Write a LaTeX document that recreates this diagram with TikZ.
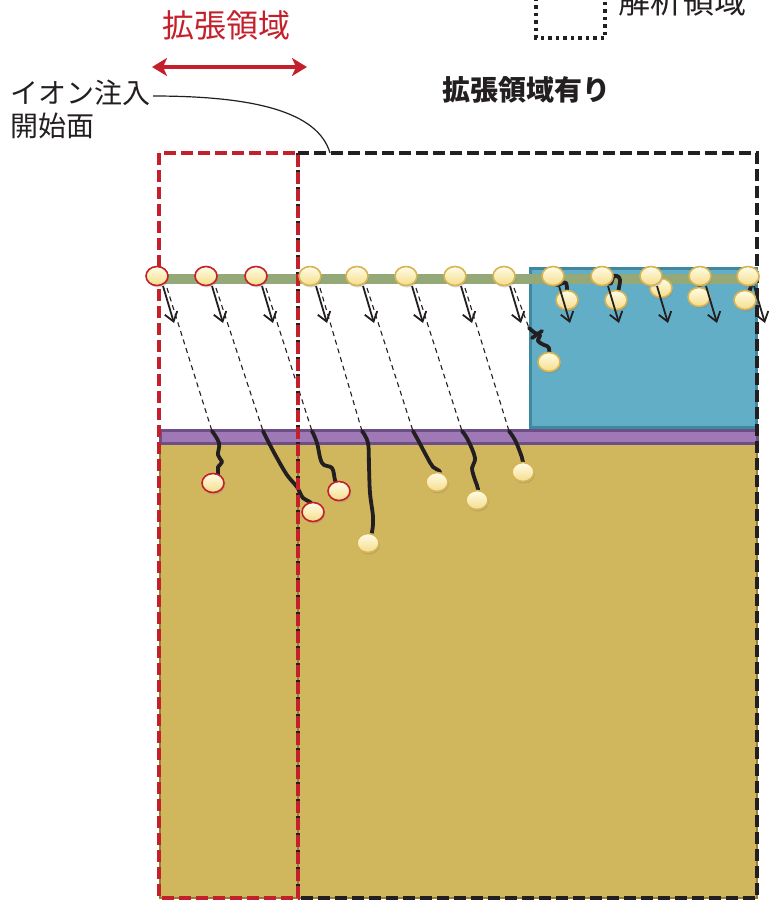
\documentclass[tikz,border=0pt]{standalone}
\usepackage{fontspec}
\newfontfamily\cjk{Noto Sans CJK JP}
\usetikzlibrary{arrows.meta,shapes.geometric,shadows}

\definecolor{gold}{HTML}{D0B75E}
\definecolor{goldedge}{HTML}{978033}
\definecolor{purplefill}{HTML}{9E79B6}
\definecolor{purpleedge}{HTML}{6D4E87}
\definecolor{bluefill}{HTML}{62AEC6}
\definecolor{blueedge}{HTML}{3E88A2}
\definecolor{greenline}{HTML}{95A878}
\definecolor{redline}{HTML}{C4202B}
\definecolor{darkline}{HTML}{231F20}
\definecolor{creamtop}{HTML}{FFFDE8}
\definecolor{creambot}{HTML}{F4DC88}
\definecolor{ringgold}{HTML}{D6B455}

\pgfdeclarelayer{base}
\pgfdeclarelayer{paths}
\pgfsetlayers{base,paths,main}

\tikzset{
  ion/.style={ellipse, minimum width=22pt, minimum height=19pt, inner sep=0pt,
    top color=creamtop, bottom color=creambot, draw=ringgold, line width=1.6pt,
    drop shadow={shadow xshift=1pt, shadow yshift=-2pt, opacity=.3}},
  ionred/.style={ion, draw=redline},
  track/.style={darkline, line width=1.1pt, dash pattern=on 5pt off 4pt},
  wig/.style={darkline, line width=3.8pt, line join=round, line cap=round},
  kick/.style={darkline, line width=1.8pt, -{Straight Barb[length=9pt,width=13pt,line width=1.8pt]}},
  regionbox/.style={line width=3.5pt, dash pattern=on 12pt off 5pt},
  lbl/.style={inner sep=0pt, text=darkline, font=\cjk\fontsize{28}{33}\selectfont}
}

\begin{document}
\begin{tikzpicture}[x=1pt,y=-1pt]
\useasboundingbox (0,0) rectangle (779,903);

% substrate, interface layer, mask block, start surface
\begin{pgfonlayer}{base}
\draw[fill=gold, draw=goldedge, line width=2pt] (160,443) rectangle (298,898);
\draw[fill=gold, draw=goldedge, line width=2pt] (298,443) rectangle (757,898);
\draw[fill=purplefill, draw=purpleedge, line width=3pt] (160,430) rectangle (757,443);
\draw[fill=bluefill, draw=blueedge, line width=3pt] (530,268) rectangle (756,427);
\draw[greenline, line width=10.5pt] (158,279) -- (757,279);
\end{pgfonlayer}

% top row of incoming ions
\foreach \x [count=\i] in {157,206,256,310,357,406,455,504,553,602,651,700,748}{
  \coordinate (tp\i) at (\x,276);
  \coordinate (ds\i) at (\x+10,288);
  \coordinate (as\i) at (\x+6,286);
  \coordinate (ah\i) at (\x+17,323);
}

% entry points into the solid
\foreach \i/\ex in {1/212,2/263,3/312,4/362,5/413,6/462,7/509}{
  \coordinate (e\i) at (\ex,431);
}
\coordinate (e8) at (529,328);

% simulation regions
\draw[regionbox, darkline] (298,153) rectangle (757,898);
\draw[regionbox, redline] (159,153) rectangle (298,898);

% stopped ions
\node[ionred] (b1) at (213,483) {};
\node[ionred] (b2) at (313,512) {};
\node[ionred] (b3) at (339,491) {};
\node[ion] (b4) at (368,543) {};
\node[ion] (b5) at (437,482) {};
\node[ion] (b6) at (477,500) {};
\node[ion] (b7) at (523,472) {};
\node[ion] (s1) at (567,300) {};
\node[ion] (s2) at (616,300) {};
\node[ion] (s3) at (661,288) {};
\node[ion] (s4) at (699,297) {};
\node[ion] (s5) at (745,300) {};
\node[ion] (s6) at (549,362) {};

% incident directions
\foreach \i in {1,...,13}{
  \draw[kick] (as\i) -- (ah\i);
}
\foreach \i in {1,2,3}{
  \node[ionred] (t\i) at (tp\i) {};
}
\foreach \i in {4,...,13}{
  \node[ion] (t\i) at (tp\i) {};
}

% straight flight, then scattered paths inside the solid
\begin{pgfonlayer}{paths}
\foreach \i in {1,...,8}{
  \draw[track] (ds\i) -- (e\i);
}
\draw[wig] plot[smooth,tension=.6] coordinates {(e1) (219,443) (218,455) (222,462) (218,467) (218,475) (b1)};
\draw[wig] plot[smooth,tension=.6] coordinates {(e2) (270,445) (277,458) (287,475) (297,487) (303,498) (311,503) (b2)};
\draw[wig] plot[smooth,tension=.6] coordinates {(e3) (317,443) (322,463) (332,468) (335,480) (b3)};
\draw[wig] plot[smooth,tension=.6] coordinates {(e4) (368,443) (369,467) (370,493) (373,517) (372,532) (b4)};
\draw[wig] plot[smooth,tension=.6] coordinates {(e5) (418,440) (427,457) (433,467) (440,472) (b5)};
\draw[wig] plot[smooth,tension=.6] coordinates {(e6) (468,440) (475,458) (472,468) (475,480) (478,489) (b6)};
\draw[wig] plot[smooth,tension=.6] coordinates {(e7) (515,440) (520,452) (523,462) (b7)};
\draw[wig] plot[smooth,tension=.6] coordinates {(e8) (535,333) (540,335) (538,341) (544,345) (549,348) (s6)};
\draw[wig] (532,338) -- (542,331);
\draw[wig] plot[smooth,tension=.6] coordinates {(t9) (557,285) (566,283) (s1)};
\draw[wig] plot[smooth,tension=.6] coordinates {(t10) (610,284) (614,276) (620,280) (s2)};
\draw[wig] (t11) -- (s3);
\draw[wig] (t12) -- (s4);
\draw[wig] plot[smooth,tension=.6] coordinates {(t13) (751,286) (s5)};
\end{pgfonlayer}

% legend
\draw[darkline, line width=3.5pt, dash pattern=on 3.5pt off 4pt] (536,-10) -- (536,38) -- (605,38) -- (605,-10);
\node[lbl, font=\cjk\fontsize{32}{36}\selectfont, anchor=base west] (legtxt) at (618,13) {解析領域};

% extension width marker
\node[inner sep=0pt, text=redline, font=\cjk\fontsize{32}{36}\selectfont] (exttitle) at (226,25) {拡張領域};
\coordinate (extL) at (152,67);
\coordinate (extR) at (307,67);
\draw[redline, line width=4pt, {Stealth[length=15pt,width=18pt,inset=4pt]}-{Stealth[length=15pt,width=18pt,inset=4pt]}] (extL) -- (extR);

\node[lbl, font=\cjk\bfseries\fontsize{28}{33}\selectfont] (case) at (526,90) {拡張領域有り};

% start surface annotation
\node[lbl, anchor=north west, align=left] (startlbl) at (10,80) {イオン注入\\開始面};
\coordinate (leadA) at (153,96);
\coordinate (leadB) at (330,153);
\draw[darkline, line width=1.2pt] (leadA) .. controls (255,96) and (318,112) .. (leadB);
\end{tikzpicture}
\end{document}
